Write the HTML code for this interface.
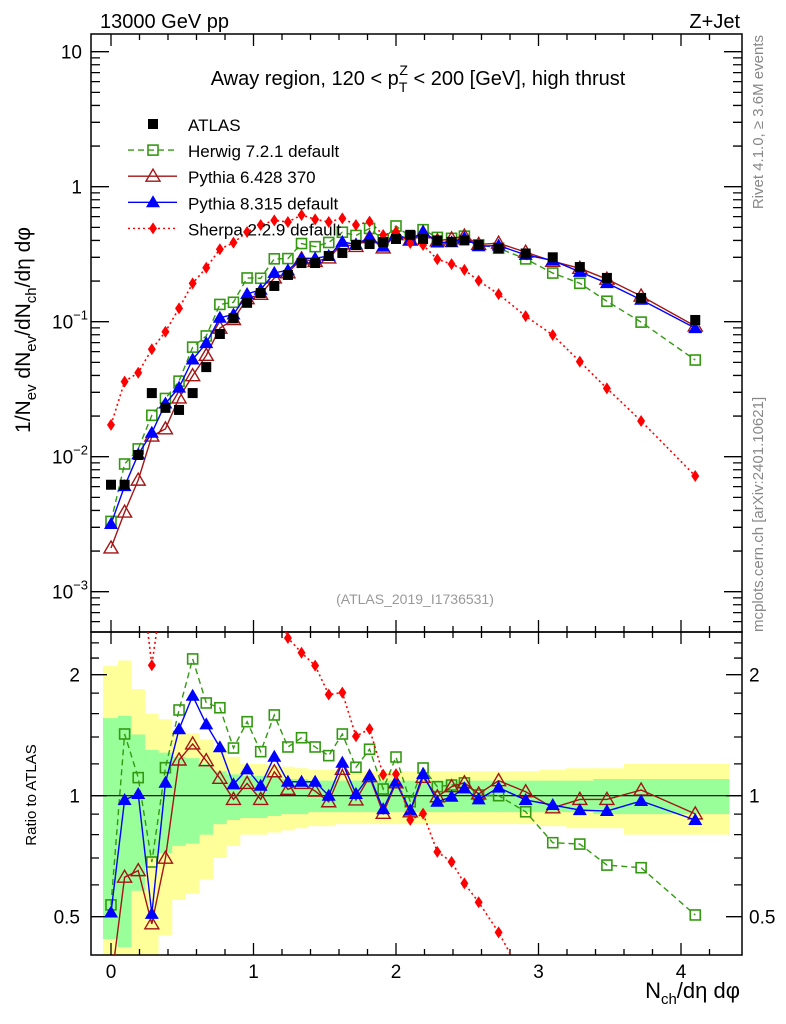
<!DOCTYPE html>
<html><head><meta charset="utf-8">
<style>
html,body{margin:0;padding:0;background:#fff;overflow:hidden;width:786px;height:1024px;}
svg{display:block;font-family:"Liberation Sans",sans-serif;overflow:hidden;}
</style></head>
<body>
<svg id="chart" width="786" height="1024" viewBox="0 0 786 1024" xmlns="http://www.w3.org/2000/svg">
<g id="bands"></g>
<g id="axes"></g>
<g id="series"></g>
<text x="100" y="28" font-size="20">13000 GeV pp</text>
<text x="740" y="28" font-size="20" text-anchor="end">Z+Jet</text>
<text x="418" y="85" font-size="20" text-anchor="middle">Away region, 120 &lt; p<tspan font-size="14" dy="7">T</tspan><tspan font-size="14" dx="-8" dy="-17">Z</tspan><tspan dy="10"> &lt; 200 [GeV], high thrust</tspan></text>
<text x="415" y="604" font-size="14" fill="#999" text-anchor="middle">(ATLAS_2019_I1736531)</text>
<text transform="translate(763,35) rotate(-90)" font-size="15" fill="#888" text-anchor="end">Rivet 4.1.0, ≥ 3.6M events</text>
<text transform="translate(763,632) rotate(-90)" font-size="15" fill="#888">mcplots.cern.ch [arXiv:2401.10621]</text>
<text transform="translate(30,330) rotate(-90)" font-size="21" text-anchor="middle">1/N<tspan font-size="15" dy="6">ev</tspan><tspan dy="-6"> dN</tspan><tspan font-size="15" dy="6">ev</tspan><tspan dy="-6">/dN</tspan><tspan font-size="15" dy="6">ch</tspan><tspan dy="-6">/dη dφ</tspan></text>
<text transform="translate(36,795) rotate(-90)" font-size="15" text-anchor="middle">Ratio to ATLAS</text>
<text x="740" y="998" font-size="22" text-anchor="end">N<tspan font-size="15" dy="6">ch</tspan><tspan dy="-6">/dη dφ</tspan></text>
<g id="legend"></g>
</svg>
<script>
const xs=[0,0.0955,0.191,0.2865,0.382,0.4775,0.573,0.6685,0.764,0.8595,0.955,1.0505,1.146,1.2415,1.337,1.4325,1.528,1.6235,1.719,1.8145,1.91,2.0,2.1,2.19,2.29,2.39,2.48,2.58,2.72,2.91,3.1,3.29,3.48,3.72,4.1];
const atlas=[0.0062,0.0062,0.0103,0.0296,0.0230,0.0222,0.0296,0.0461,0.0811,0.106,0.138,0.163,0.184,0.222,0.272,0.272,0.307,0.323,0.370,0.376,0.389,0.41,0.44,0.41,0.40,0.39,0.40,0.37,0.35,0.32,0.30,0.254,0.211,0.150,0.103];
const statErr=[0.56,0.58,0.42,0.3,0.28,0.25,0.24,0.2,0.15,0.13,0.12,0.12,0.11,0.10,0.10,0.09,0.09,0.09,0.09,0.09,0.09,0.09,0.09,0.09,0.09,0.09,0.09,0.09,0.09,0.09,0.09,0.09,0.10,0.10,0.10];
const totErr=[1.1,1.17,0.84,0.6,0.55,0.45,0.43,0.38,0.3,0.25,0.2,0.2,0.19,0.18,0.17,0.16,0.16,0.15,0.15,0.15,0.15,0.15,0.15,0.15,0.15,0.15,0.15,0.15,0.15,0.15,0.16,0.17,0.17,0.2,0.2];
const herwigRatio=[0.535,1.424,1.109,0.684,1.174,1.634,2.189,1.701,1.655,1.314,1.528,1.287,1.588,1.322,1.394,1.322,1.258,1.424,1.177,1.305,1.039,1.248,0.966,1.172,1.053,1.063,1.076,1.004,1.0,0.912,0.764,0.758,0.672,0.662,0.505];
const py8Ratio=[0.512,0.976,1.01,0.508,1.077,1.463,1.773,1.505,1.32,1.067,1.163,1.059,1.25,1.083,1.083,1.083,1.0,1.208,1.01,1.121,0.925,1.083,0.918,1.132,0.966,0.994,1.043,0.979,1.047,0.976,0.948,0.921,0.916,0.97,0.87];
const py6Ratio=[0.34,0.627,0.651,0.48,0.699,1.227,1.345,1.222,1.105,0.979,1.073,0.979,1.147,1.037,1.073,1.027,0.966,1.163,0.976,1.115,0.904,1.077,0.912,1.111,0.994,1.053,1.077,1.01,1.09,1.023,0.933,0.979,0.979,1.033,0.901];
const sherpa=[0.0172,0.036,0.0419,0.0625,0.0843,0.1256,0.1923,0.251,0.344,0.385,0.462,0.52,0.563,0.548,0.617,0.573,0.548,0.583,0.52,0.551,0.439,0.464,0.383,0.37,0.29,0.267,0.242,0.201,0.16,0.11,0.0797,0.0506,0.0321,0.0184,0.0072];
const yTickLabels=["10","1","10","10","10"];
const yTickExps=["","","−1","−2","−3"];
const ratioTickLabels=["2","1","0.5"];

const NS="http://www.w3.org/2000/svg";
const L=91,R=742,T=34,MB=632,RB=955;
const X=v=>111+142.5*v;
const Y=v=>321.7-135*(Math.log10(v)+1);
const RY=r=>795.7-121*Math.log2(r);
function mk(tag,attrs,parent){const e=document.createElementNS(NS,tag);for(const k in attrs)e.setAttribute(k,attrs[k]);parent.appendChild(e);return e;}
const axes=document.getElementById('axes'),bands=document.getElementById('bands'),ser=document.getElementById('series'),leg=document.getElementById('legend');

const edges=[-0.056];
for(let i=0;i<xs.length-1;i++)edges.push((xs[i]+xs[i+1])/2);
edges.push(4.34);
function clampY(y){return Math.max(MB,Math.min(RB,y));}
[[totErr,'#ffff99','total'],[statErr,'#99ff99','stat']].forEach(([err,col,nm])=>{
  let d='';
  for(let i=0;i<xs.length;i++){
    const hi=clampY(RY(1+err[i])),lo=clampY(1-err[i]>0.01?RY(1-err[i]):RB);
    d+=`M${X(edges[i])},${hi}H${X(edges[i+1])}V${lo}H${X(edges[i])}Z`;
  }
  const p=mk('path',{d:d,fill:col},bands);
  
  
});

const f1=mk('rect',{x:L,y:T,width:R-L,height:MB-T,fill:'none',stroke:'#000','stroke-width':1.5},axes);

const f2=mk('rect',{x:L,y:MB,width:R-L,height:RB-MB,fill:'none',stroke:'#000','stroke-width':1.5},axes);

const one=mk('line',{x1:L,x2:R,y1:RY(1),y2:RY(1),stroke:'#000','stroke-width':1.2},axes);


let td='';
for(let v=0;v<=4.4;v+=0.2){const vv=Math.round(v*10)/10;const x=X(vv);const maj=Math.abs(vv-Math.round(vv))<1e-6;const len=maj?12:6;
  td+=`M${x},${T}v${len}M${x},${MB}v${-len}M${x},${MB}v${len}M${x},${RB}v${-len}`;}
for(let e=-4;e<=1;e++){for(let m=1;m<=9;m++){const v=m*Math.pow(10,e);const y=Y(v);if(y<T||y>MB)continue;const len=m===1?18:9;td+=`M${L},${y}h${len}M${R},${y}h${-len}`;}}
[0.4,0.5,0.6,0.7,0.8,0.9,1,1.2,1.4,1.6,1.8,2,2.2,2.4].forEach(r=>{const y=RY(r);if(y<MB||y>RB)return;const len=(r===1||r===2||r===0.5)?16:8;td+=`M${L},${y}h${len}M${R},${y}h${-len}`;});
const tp=mk('path',{d:td,stroke:'#000','stroke-width':1.3,fill:'none'},axes);


[0,1,2,3,4].forEach(v=>{const t=mk('text',{x:X(v),y:978,'font-size':19,'text-anchor':'middle'},axes);t.textContent=v;
 });
[10,1,0.1,0.01,0.001].forEach((v,i)=>{const y=Y(v)+7;
 const t=mk('text',{x:i<2?82:52,y:y,'font-size':19,'text-anchor':i<2?'end':'start'},axes);
 t.textContent=yTickLabels[i];
 if(yTickExps[i]){const s=mk('tspan',{'font-size':13,dy:-9},t);s.textContent=yTickExps[i];}
 });
[2,1,0.5].forEach((v,i)=>{const y=RY(v)+7;
 const t=mk('text',{x:80,y:y,'font-size':19,'text-anchor':'end'},axes);t.textContent=ratioTickLabels[i];
 
 const t2=mk('text',{x:749,y:y,'font-size':19},axes);t2.textContent=ratioTickLabels[i];
 });

function marker(type,x,y,col,parent,nm){let e;
 if(type==='sq')e=mk('rect',{x:x-5,y:y-5,width:10,height:10,fill:'#000'},parent);
 else if(type==='osq')e=mk('rect',{x:x-5,y:y-5,width:10,height:10,fill:'#fff','fill-opacity':0.01,stroke:col,'stroke-width':1.6},parent);
 else if(type==='otri')e=mk('path',{d:`M${x},${y-7}L${x+7},${y+5}L${x-7},${y+5}Z`,fill:'none',stroke:col,'stroke-width':1.4},parent);
 else if(type==='tri')e=mk('path',{d:`M${x},${y-7}L${x+7},${y+5}L${x-7},${y+5}Z`,fill:col},parent);
 else e=mk('path',{d:`M${x},${y-6}L${x+4},${y}L${x},${y+6}L${x-4},${y}Z`,fill:col},parent);
 return e;}

const herwig=xs.map((_,i)=>atlas[i]*herwigRatio[i]);
const py6=xs.map((_,i)=>atlas[i]*py6Ratio[i]);
const py8=xs.map((_,i)=>atlas[i]*py8Ratio[i]);
const sherpaRatio=xs.map((_,i)=>sherpa[i]/atlas[i]);

const gm=mk('g',{},ser);
const gr=mk('g',{},ser);

// clip a polyline to y range [y0,y1], returning list of segments
function clipSegs(pts,y0,y1){const out=[];let cur=null;
 for(let i=0;i<pts.length-1;i++){let [ax,ay]=pts[i],[bx,by]=pts[i+1];
  let t0=0,t1=1;const dy=by-ay;
  if(dy===0){if(ay<y0||ay>y1){cur=null;continue;}}
  else{let ta=(y0-ay)/dy,tb=(y1-ay)/dy;if(ta>tb)[ta,tb]=[tb,ta];t0=Math.max(0,ta);t1=Math.min(1,tb);if(t0>t1){cur=null;continue;}}
  const p0=[ax+(bx-ax)*t0,ay+dy*t0],p1=[ax+(bx-ax)*t1,ay+dy*t1];
  if(!cur||t0>0){cur=[p0];out.push(cur);}
  cur.push(p1);if(t1<1)cur=null;}
 return out;}

const defs=[
 {name:'herwig',vals:herwig,rat:herwigRatio,col:'#339911',dash:'6,4',type:'osq',w:1.4},
 {name:'pythia6',vals:py6,rat:py6Ratio,col:'#a31515',dash:'',type:'otri',w:1.4},
 {name:'pythia8',vals:py8,rat:py8Ratio,col:'#0000ff',dash:'',type:'tri',w:1.4},
 {name:'sherpa',vals:sherpa,rat:sherpaRatio,col:'#ff0000',dash:'2,3',type:'dia',w:1.6}];
defs.forEach(s=>{
 [[gm,s.vals,Y,'main',T,MB],[gr,s.rat,RY,'ratio',MB,RB]].forEach(([g,vals,yf,pn,y0,y1])=>{
  const pts=xs.map((x,i)=>[X(x),yf(vals[i])]);
  clipSegs(pts,y0,y1).forEach(seg=>{
   const pl=mk('polyline',{points:seg.map(p=>p[0].toFixed(2)+','+p[1].toFixed(2)).join(' '),fill:'none',stroke:s.col,'stroke-width':s.w,'stroke-dasharray':s.dash},g);
   
  });
  xs.forEach((x,i)=>{const y=yf(vals[i]);if(y<y0+4||y>y1-4)return;marker(s.type,X(x),y,s.col,g,s.name+'-'+pn+'-point');});
 });
});
xs.forEach((x,i)=>marker('sq',X(x),Y(atlas[i]),'#000',gm,'atlas-point'));

const items=[['sq','#000','','ATLAS'],['osq','#339911','6,4','Herwig 7.2.1 default'],['otri','#a31515','','Pythia 6.428 370'],['tri','#0000ff','','Pythia 8.315 default'],['dia','#ff0000','2,3','Sherpa 2.2.9 default']];
items.forEach((it,i)=>{const y=124+i*26.1;
 const g=mk('g',{},leg);
 if(i>0){const ln=mk('line',{x1:128,x2:177,y1:y,y2:y,stroke:it[1],'stroke-width':1.4,'stroke-dasharray':it[2]},g);
  }
 marker(it[0],153,y,it[1],g,'legend-marker');
 const t=mk('text',{x:188,y:y+7,'font-size':17},g);t.textContent=it[3];
 });
</script>
</body></html>
